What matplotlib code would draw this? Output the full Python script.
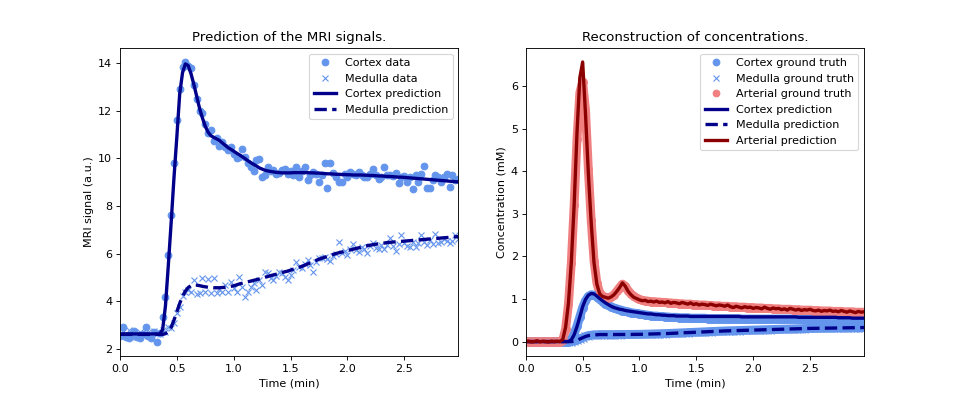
import numpy as np
import matplotlib
matplotlib.use("Agg")
import matplotlib.pyplot as plt

# time grid: 120 samples, 1.5 s apart, shown in minutes
time = np.arange(120) * 1.5 / 60

# MRI signals (a.u.)
cortex_data = [
    2.55, 2.93, 2.5, 2.46, 2.58, 2.73, 2.5, 2.46, 2.62, 2.93,
    2.55, 2.46, 2.7, 2.28, 2.66, 3.35, 4.19, 5.94, 7.62, 9.79,
    11.63, 12.93, 13.84, 14.05, 13.9, 13.81, 13.1, 12.5, 12.0, 11.92,
    11.43, 11.07, 11.18, 10.72, 10.86, 10.51, 10.7, 10.48, 10.37, 10.48,
    10.2, 10.0, 10.04, 10.41, 10.06, 9.8, 9.65, 9.48, 9.95, 9.97,
    9.22, 9.3, 9.64, 9.45, 9.5, 9.36, 9.4, 9.5, 9.55, 9.36,
    9.45, 9.3, 9.64, 9.22, 9.45, 9.64, 9.09, 9.3, 9.43, 9.35,
    9.01, 9.3, 9.79, 8.74, 9.79, 9.4, 9.22, 9.01, 9.01, 9.36,
    9.2, 9.43, 9.35, 9.3, 9.43, 9.3, 9.2, 9.22, 9.35, 9.57,
    9.3, 9.15, 9.2, 9.64, 9.3, 9.3, 9.25, 9.39, 8.97, 9.2,
    9.25, 9.01, 9.2, 8.7, 9.3, 9.01, 9.36, 9.67, 8.74, 8.74,
    9.1, 9.3, 9.2, 9.01, 9.2, 9.36, 8.78, 9.3, 9.1, 9.15,
]
medulla_data = [
    2.55, 2.7, 2.62, 2.78, 2.5, 2.65, 2.6, 2.72, 2.55, 2.6,
    2.68, 2.52, 2.75, 2.6, 2.62, 2.8, 2.7, 2.93, 2.85, 3.08,
    3.5, 3.77, 4.2, 4.4, 4.45, 4.4, 4.89, 4.3, 4.34, 4.96,
    4.4, 4.93, 4.34, 4.96, 4.34, 4.5, 4.4, 4.68, 4.4, 4.82,
    4.55, 4.4, 5.03, 4.6, 4.19, 4.4, 4.61, 4.75, 4.47, 4.9,
    4.68, 5.24, 5.17, 4.95, 4.89, 5.05, 5.24, 5.17, 5.0, 4.89,
    5.1, 5.3, 5.66, 5.45, 5.38, 5.55, 5.73, 5.5, 5.24, 5.65,
    5.8, 5.8, 5.87, 5.75, 5.7, 5.9, 6.0, 6.47, 6.01, 6.1,
    5.95, 6.2, 6.4, 6.15, 6.05, 6.29, 6.2, 6.01, 6.3, 6.43,
    6.25, 6.18, 6.35, 6.2, 6.36, 6.64, 6.3, 6.12, 6.4, 6.78,
    6.45, 6.3, 6.29, 6.5, 6.29, 6.45, 6.78, 6.5, 6.36, 6.55,
    6.4, 6.82, 6.45, 6.5, 6.6, 6.52, 6.45, 6.52, 6.78, 6.6,
]
cortex_signal_pred = [
    2.62, 2.62, 2.62, 2.62, 2.62, 2.62, 2.62, 2.62, 2.62, 2.62,
    2.62, 2.62, 2.62, 2.62, 2.62, 2.8, 3.8, 5.5, 7.3, 9.2,
    10.9, 12.7, 13.6, 13.97, 13.9, 13.55, 13.1, 12.6, 12.1, 11.7,
    11.35, 11.1, 10.95, 10.88, 10.82, 10.75, 10.65, 10.55, 10.45, 10.38,
    10.3, 10.22, 10.15, 10.07, 9.99, 9.9, 9.82, 9.75, 9.68, 9.6,
    9.55, 9.5, 9.47, 9.45, 9.43, 9.41, 9.4, 9.39, 9.39, 9.39,
    9.39, 9.4, 9.4, 9.4, 9.4, 9.4, 9.4, 9.39, 9.39, 9.38,
    9.38, 9.37, 9.36, 9.35, 9.35, 9.34, 9.33, 9.33, 9.32, 9.32,
    9.31, 9.31, 9.3, 9.3, 9.3, 9.3, 9.29, 9.29, 9.28, 9.28,
    9.27, 9.26, 9.26, 9.25, 9.24, 9.24, 9.23, 9.22, 9.21, 9.21,
    9.2, 9.19, 9.18, 9.17, 9.16, 9.15, 9.14, 9.13, 9.12, 9.11,
    9.1, 9.09, 9.08, 9.07, 9.06, 9.05, 9.04, 9.03, 9.02, 9.01,
]
medulla_signal_pred = [
    2.6, 2.6, 2.6, 2.6, 2.6, 2.6, 2.6, 2.6, 2.6, 2.6,
    2.6, 2.6, 2.6, 2.6, 2.6, 2.6, 2.63, 2.72, 2.9, 3.2,
    3.55, 3.9, 4.2, 4.42, 4.57, 4.65, 4.68, 4.67, 4.65, 4.62,
    4.6, 4.58, 4.57, 4.56, 4.56, 4.56, 4.57, 4.58, 4.6, 4.62,
    4.64, 4.68, 4.72, 4.75, 4.78, 4.81, 4.84, 4.87, 4.9, 4.93,
    4.96, 5.0, 5.03, 5.07, 5.1, 5.13, 5.16, 5.2, 5.23, 5.26,
    5.3, 5.34, 5.38, 5.42, 5.46, 5.51, 5.56, 5.61, 5.66, 5.71,
    5.76, 5.8, 5.84, 5.88, 5.92, 5.96, 6.0, 6.03, 6.06, 6.09,
    6.12, 6.15, 6.18, 6.21, 6.24, 6.27, 6.3, 6.33, 6.35, 6.37,
    6.39, 6.41, 6.43, 6.44, 6.46, 6.47, 6.48, 6.49, 6.5, 6.51,
    6.52, 6.53, 6.54, 6.55, 6.56, 6.57, 6.58, 6.59, 6.6, 6.61,
    6.62, 6.63, 6.64, 6.65, 6.66, 6.67, 6.68, 6.69, 6.7, 6.71,
]

# concentrations (mM)
cortex_conc_true = [
    0, 0, 0, 0, 0, 0, 0, 0, 0, 0,
    0, 0, 0, 0, 0, 0, 0.05, 0.18, 0.36, 0.58,
    0.8, 0.96, 1.06, 1.1, 1.09, 1.05, 0.99, 0.94, 0.89, 0.85,
    0.82, 0.79, 0.77, 0.75, 0.73, 0.71, 0.7, 0.68, 0.67, 0.66,
    0.65, 0.64, 0.63, 0.62, 0.61, 0.6, 0.6, 0.59, 0.59, 0.58,
    0.58, 0.57, 0.57, 0.57, 0.56, 0.56, 0.56, 0.56, 0.55, 0.55,
    0.55, 0.55, 0.55, 0.55, 0.54, 0.54, 0.54, 0.54, 0.54, 0.54,
    0.54, 0.54, 0.54, 0.54, 0.54, 0.54, 0.53, 0.53, 0.53, 0.53,
    0.53, 0.53, 0.53, 0.53, 0.53, 0.53, 0.53, 0.53, 0.53, 0.53,
    0.53, 0.53, 0.53, 0.53, 0.53, 0.53, 0.52, 0.52, 0.52, 0.52,
    0.52, 0.52, 0.52, 0.52, 0.52, 0.52, 0.52, 0.52, 0.52, 0.52,
    0.52, 0.51, 0.51, 0.51, 0.51, 0.51, 0.51, 0.51, 0.51, 0.51,
]
medulla_conc_true = [
    0, 0, 0, 0, 0, 0, 0, 0, 0, 0,
    0, 0, 0, 0, 0, 0, 0, 0.01, 0.03, 0.06,
    0.09, 0.12, 0.14, 0.15, 0.16, 0.16, 0.165, 0.165, 0.165, 0.165,
    0.165, 0.165, 0.166, 0.166, 0.167, 0.167, 0.168, 0.168, 0.169, 0.17,
    0.17, 0.172, 0.174, 0.176, 0.178, 0.18, 0.182, 0.184, 0.186, 0.188,
    0.19, 0.193, 0.196, 0.199, 0.202, 0.205, 0.208, 0.211, 0.214, 0.217,
    0.22, 0.223, 0.226, 0.229, 0.232, 0.235, 0.238, 0.241, 0.244, 0.247,
    0.25, 0.252, 0.254, 0.256, 0.258, 0.26, 0.262, 0.264, 0.266, 0.268,
    0.27, 0.272, 0.274, 0.276, 0.278, 0.28, 0.282, 0.284, 0.286, 0.288,
    0.29, 0.292, 0.294, 0.296, 0.298, 0.3, 0.302, 0.304, 0.306, 0.308,
    0.31, 0.311, 0.312, 0.313, 0.314, 0.315, 0.316, 0.317, 0.318, 0.319,
    0.32, 0.321, 0.322, 0.323, 0.324, 0.325, 0.326, 0.327, 0.328, 0.33,
]
arterial_conc_true = [
    0, 0, 0, 0, 0, 0, 0, 0, 0, 0,
    0, 0, 0, 0.03, 0.3, 0.88, 1.85, 3.2, 4.75, 5.85,
    6.1, 5.45, 4.05, 2.85, 1.9, 1.38, 1.14, 1.07, 1.04, 1.03,
    1.05, 1.1, 1.18, 1.27, 1.35, 1.3, 1.2, 1.12, 1.06, 1.02,
    0.99, 0.97, 0.96, 0.95, 0.94, 0.94, 0.93, 0.93, 0.92, 0.92,
    0.91, 0.91, 0.9, 0.9, 0.89, 0.89, 0.88, 0.88, 0.88, 0.87,
    0.87, 0.86, 0.86, 0.86, 0.85, 0.85, 0.84, 0.84, 0.84, 0.83,
    0.83, 0.83, 0.82, 0.82, 0.82, 0.81, 0.81, 0.81, 0.8, 0.8,
    0.8, 0.79, 0.79, 0.79, 0.78, 0.78, 0.78, 0.77, 0.77, 0.77,
    0.76, 0.76, 0.76, 0.76, 0.75, 0.75, 0.75, 0.74, 0.74, 0.74,
    0.74, 0.73, 0.73, 0.73, 0.72, 0.72, 0.72, 0.72, 0.71, 0.71,
    0.71, 0.71, 0.7, 0.7, 0.7, 0.7, 0.69, 0.69, 0.69, 0.69,
]
cortex_conc_pred = [
    0, 0, 0, 0, 0, 0, 0, 0, 0, 0,
    0, 0, 0, 0, 0, 0, 0.04, 0.16, 0.35, 0.58,
    0.82, 0.99, 1.09, 1.13, 1.12, 1.07, 1.01, 0.96, 0.91, 0.87,
    0.83, 0.8, 0.78, 0.76, 0.75, 0.73, 0.72, 0.71, 0.7, 0.69,
    0.68, 0.67, 0.66, 0.65, 0.65, 0.64, 0.63, 0.63, 0.62, 0.62,
    0.61, 0.61, 0.61, 0.6, 0.6, 0.6, 0.6, 0.6, 0.59, 0.59,
    0.59, 0.59, 0.59, 0.59, 0.59, 0.59, 0.59, 0.59, 0.59, 0.59,
    0.59, 0.59, 0.59, 0.59, 0.59, 0.59, 0.58, 0.58, 0.58, 0.58,
    0.58, 0.58, 0.58, 0.58, 0.58, 0.58, 0.58, 0.58, 0.58, 0.58,
    0.58, 0.58, 0.58, 0.58, 0.58, 0.58, 0.57, 0.57, 0.57, 0.57,
    0.57, 0.57, 0.57, 0.57, 0.57, 0.57, 0.57, 0.57, 0.57, 0.57,
    0.56, 0.56, 0.56, 0.56, 0.56, 0.55, 0.55, 0.55, 0.55, 0.55,
]
# medulla prediction sits on top of the ground truth
medulla_conc_pred = medulla_conc_true
arterial_conc_pred = [
    0.0, 0.01, -0.01, 0.0, 0.02, -0.01, 0.01, 0.0, -0.01, 0.01,
    0.0, 0.01, 0.0, 0.05, 0.34, 0.9, 1.85, 3.2, 4.9, 6.2,
    6.57, 5.35, 3.96, 2.8, 1.85, 1.35, 1.12, 1.06, 1.04, 1.02,
    1.05, 1.1, 1.18, 1.27, 1.38, 1.3, 1.18, 1.1, 1.04, 1.01,
    0.98, 0.96, 0.97, 0.94, 0.95, 0.93, 0.95, 0.92, 0.93, 0.91,
    0.94, 0.9, 0.92, 0.91, 0.89, 0.92, 0.9, 0.88, 0.91, 0.87,
    0.89, 0.86, 0.88, 0.87, 0.85, 0.88, 0.86, 0.84, 0.86, 0.85,
    0.83, 0.86, 0.82, 0.8, 0.83, 0.81, 0.79, 0.82, 0.8, 0.81,
    0.78, 0.8, 0.79, 0.77, 0.81, 0.78, 0.76, 0.79, 0.77, 0.78,
    0.75, 0.77, 0.74, 0.78, 0.76, 0.74, 0.76, 0.73, 0.75, 0.74,
    0.76, 0.73, 0.72, 0.74, 0.71, 0.73, 0.72, 0.74, 0.71, 0.72,
    0.7, 0.73, 0.71, 0.69, 0.72, 0.7, 0.68, 0.71, 0.69, 0.7,
]

fig, (ax0, ax1) = plt.subplots(1, 2, figsize=(12, 5), dpi=80)

# left: MRI signals
ax0.set_title('Prediction of the MRI signals.')
ax0.plot(time, cortex_data, marker='o', linestyle='None', color='cornflowerblue', label='Cortex data')
ax0.plot(time, medulla_data, marker='x', linestyle='None', color='cornflowerblue', label='Medulla data')
ax0.plot(time, cortex_signal_pred, linestyle='-', linewidth=3.0, color='darkblue', label='Cortex prediction')
ax0.plot(time, medulla_signal_pred, linestyle='--', linewidth=3.0, color='darkblue', label='Medulla prediction')
ax0.set_xlabel('Time (min)')
ax0.set_ylabel('MRI signal (a.u.)')
ax0.set_xlim(0, time[-1])
ax0.legend(loc='upper right')

# right: concentrations
ax1.set_title('Reconstruction of concentrations.')
# thick bands under the ground-truth markers
for y, c in [(cortex_conc_true, 'cornflowerblue'), (medulla_conc_true, 'cornflowerblue'),
             (arterial_conc_true, 'lightcoral')]:
    ax1.plot(time, y, linestyle='-', linewidth=8, color=c,
             solid_capstyle='round', solid_joinstyle='round')
ax1.plot(time, cortex_conc_true, marker='o', markersize=7, linestyle='None', color='cornflowerblue', label='Cortex ground truth')
ax1.plot(time, medulla_conc_true, marker='x', markersize=7, linestyle='None', color='cornflowerblue', label='Medulla ground truth')
ax1.plot(time, arterial_conc_true, marker='o', markersize=7, linestyle='None', color='lightcoral', label='Arterial ground truth')
ax1.plot(time, cortex_conc_pred, linestyle='-', linewidth=3.0, color='darkblue', label='Cortex prediction')
ax1.plot(time, medulla_conc_pred, linestyle='--', linewidth=3.0, color='darkblue', label='Medulla prediction')
ax1.plot(time, arterial_conc_pred, linestyle='-', linewidth=3.0, color='darkred', label='Arterial prediction')
ax1.set_xlabel('Time (min)')
ax1.set_ylabel('Concentration (mM)')
ax1.set_xlim(0, time[-1])
ax1.legend(loc='upper right', markerscale=6 / 7)

plt.savefig('out.png', dpi=80)
